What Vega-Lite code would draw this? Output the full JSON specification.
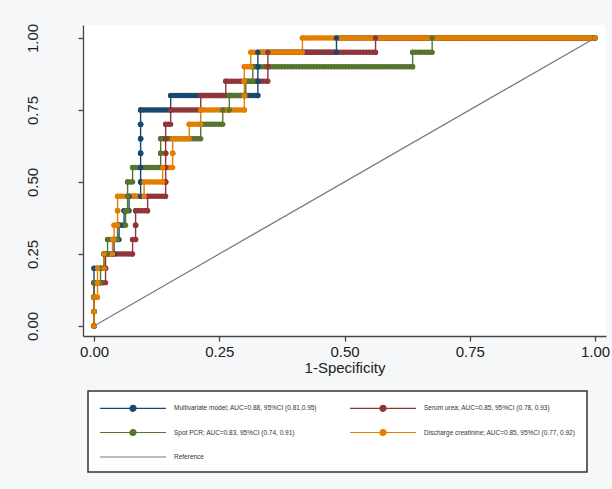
{
  "$schema": "https://vega.github.io/schema/vega-lite/v6.json",
  "width": 523,
  "height": 311,
  "autosize": {"type": "none"},
  "padding": {"left": 83, "top": 25, "right": 6, "bottom": 153},
  "background": "#f5f7f8",
  "config": {"view": {"fill": "white", "stroke": null}, "font": "Liberation Sans"},
  "datasets": {
    "roc": [
      {"m":"a","x":0,"x2":0,"y":0},{"m":"a","x":0,"x2":0,"y":0.05},{"m":"a","x":0,"x2":0,"y":0.1},{"m":"a","x":0,"x2":0,"y":0.15},{"m":"a","x":0,"x2":0.02,"y":0.2},{"m":"a","x":0.02,"x2":0.04,"y":0.25},{"m":"a","x":0.04,"x2":0.05,"y":0.3},{"m":"a","x":0.05,"x2":0.06,"y":0.35},{"m":"a","x":0.06,"x2":0.07,"y":0.4},{"m":"a","x":0.07,"x2":0.093,"y":0.45},{"m":"a","x":0.093,"x2":0.093,"y":0.5},{"m":"a","x":0.093,"x2":0.093,"y":0.55},{"m":"a","x":0.093,"x2":0.093,"y":0.6},{"m":"a","x":0.093,"x2":0.093,"y":0.65},{"m":"a","x":0.093,"x2":0.093,"y":0.7},{"m":"a","x":0.093,"x2":0.153,"y":0.75},{"m":"a","x":0.153,"x2":0.327,"y":0.8},{"m":"a","x":0.327,"x2":0.327,"y":0.85},{"m":"a","x":0.327,"x2":0.327,"y":0.9},{"m":"a","x":0.327,"x2":0.484,"y":0.95},{"m":"a","x":0.484,"x2":1,"y":1},
      {"m":"b","x":0,"x2":0,"y":0},{"m":"b","x":0,"x2":0,"y":0.05},{"m":"b","x":0,"x2":0,"y":0.1},{"m":"b","x":0,"x2":0.023,"y":0.15},{"m":"b","x":0.023,"x2":0.023,"y":0.2},{"m":"b","x":0.023,"x2":0.077,"y":0.25},{"m":"b","x":0.077,"x2":0.083,"y":0.3},{"m":"b","x":0.083,"x2":0.083,"y":0.35},{"m":"b","x":0.083,"x2":0.107,"y":0.4},{"m":"b","x":0.107,"x2":0.143,"y":0.45},{"m":"b","x":0.143,"x2":0.143,"y":0.5},{"m":"b","x":0.143,"x2":0.143,"y":0.55},{"m":"b","x":0.143,"x2":0.143,"y":0.6},{"m":"b","x":0.143,"x2":0.143,"y":0.65},{"m":"b","x":0.143,"x2":0.153,"y":0.7},{"m":"b","x":0.153,"x2":0.213,"y":0.75},{"m":"b","x":0.213,"x2":0.263,"y":0.8},{"m":"b","x":0.263,"x2":0.347,"y":0.85},{"m":"b","x":0.347,"x2":0.347,"y":0.9},{"m":"b","x":0.347,"x2":0.562,"y":0.95},{"m":"b","x":0.562,"x2":1,"y":1},
      {"m":"c","x":0,"x2":0,"y":0},{"m":"c","x":0,"x2":0,"y":0.05},{"m":"c","x":0,"x2":0,"y":0.1},{"m":"c","x":0,"x2":0.013,"y":0.15},{"m":"c","x":0.013,"x2":0.02,"y":0.2},{"m":"c","x":0.02,"x2":0.027,"y":0.25},{"m":"c","x":0.027,"x2":0.047,"y":0.3},{"m":"c","x":0.047,"x2":0.063,"y":0.35},{"m":"c","x":0.063,"x2":0.067,"y":0.4},{"m":"c","x":0.067,"x2":0.067,"y":0.45},{"m":"c","x":0.067,"x2":0.077,"y":0.5},{"m":"c","x":0.077,"x2":0.133,"y":0.55},{"m":"c","x":0.133,"x2":0.133,"y":0.6},{"m":"c","x":0.133,"x2":0.213,"y":0.65},{"m":"c","x":0.213,"x2":0.257,"y":0.7},{"m":"c","x":0.257,"x2":0.27,"y":0.75},{"m":"c","x":0.27,"x2":0.303,"y":0.8},{"m":"c","x":0.303,"x2":0.317,"y":0.85},{"m":"c","x":0.317,"x2":0.636,"y":0.9},{"m":"c","x":0.636,"x2":0.675,"y":0.95},{"m":"c","x":0.675,"x2":1,"y":1},
      {"m":"d","x":0,"x2":0,"y":0},{"m":"d","x":0,"x2":0,"y":0.05},{"m":"d","x":0,"x2":0.007,"y":0.1},{"m":"d","x":0.007,"x2":0.007,"y":0.15},{"m":"d","x":0.007,"x2":0.02,"y":0.2},{"m":"d","x":0.02,"x2":0.037,"y":0.25},{"m":"d","x":0.037,"x2":0.04,"y":0.3},{"m":"d","x":0.04,"x2":0.047,"y":0.35},{"m":"d","x":0.047,"x2":0.047,"y":0.4},{"m":"d","x":0.047,"x2":0.1,"y":0.45},{"m":"d","x":0.1,"x2":0.137,"y":0.5},{"m":"d","x":0.137,"x2":0.157,"y":0.55},{"m":"d","x":0.157,"x2":0.157,"y":0.6},{"m":"d","x":0.157,"x2":0.19,"y":0.65},{"m":"d","x":0.19,"x2":0.213,"y":0.7},{"m":"d","x":0.213,"x2":0.3,"y":0.75},{"m":"d","x":0.3,"x2":0.3,"y":0.8},{"m":"d","x":0.3,"x2":0.3,"y":0.85},{"m":"d","x":0.3,"x2":0.313,"y":0.9},{"m":"d","x":0.313,"x2":0.416,"y":0.95},{"m":"d","x":0.416,"x2":1,"y":1}
    ],
    "ref": [{"m":"e","x":0,"y":0},{"m":"e","x":1,"y":1}]
  },
  "layer": [
    {
      "data": {"name": "ref"},
      "mark": {"type": "line", "strokeWidth": 1.2},
      "encoding": {
        "x": {"field": "x", "type": "quantitative",
          "scale": {"domain": [-0.022, 1.022], "nice": false, "zero": false},
          "axis": {"values": [0, 0.25, 0.5, 0.75, 1], "format": ".2f", "title": "1-Specificity", "grid": false,
            "labelFontSize": 15, "titleFontSize": 15, "titleFontWeight": "normal", "labelFlush": false,
            "tickSize": 5, "labelPadding": 3, "titlePadding": 1, "domainColor": "#444", "tickColor": "#444",
            "domainWidth": 1.3, "tickWidth": 1.3, "labelColor": "#222", "titleColor": "#222"}},
        "y": {"field": "y", "type": "quantitative",
          "scale": {"domain": [-0.035, 1.045], "nice": false, "zero": false},
          "axis": {"values": [0, 0.25, 0.5, 0.75, 1], "format": ".2f", "title": null, "grid": false,
            "labelFontSize": 15, "labelAngle": 270, "labelPadding": 38, "labelFlush": false,
            "tickSize": 5, "domainColor": "#444", "tickColor": "#444",
            "domainWidth": 1.3, "tickWidth": 1.3, "labelColor": "#222"}},
        "color": {"field": "m", "type": "nominal",
          "scale": {"domain": ["a", "b", "c", "d", "e"], "range": ["#1a476f", "#90353b", "#55752f", "#e37e00", "#6f7a82"]},
          "legend": {
            "orient": "none", "legendX": 5, "legendY": 366, "columns": 2, "direction": "horizontal", "title": null,
            "padding": 11, "strokeColor": "#333", "fillColor": "white",
            "labelFontSize": 6.5, "labelColor": "#333", "labelLimit": 400, "labelOffset": 63,
            "symbolSize": 100, "symbolStrokeWidth": 1.2, "rowPadding": 12.5, "columnPadding": 30,
            "symbolType": "M-1,0L12.2,0M5,0A0.6,0.6,0,1,1,6.2,0A0.6,0.6,0,1,1,5,0Z",
            "labelExpr": "datum.value==='a'?'Multivariate model; AUC=0.88, 95%CI (0.81,0.95)':datum.value==='b'?'Serum urea; AUC=0.85, 95%CI (0.78, 0.93)':datum.value==='c'?'Spot PCR; AUC=0.83, 95%CI (0.74, 0.91)':datum.value==='d'?'Discharge creatinine; AUC=0.85, 95%CI (0.77, 0.92)':'Reference'",
            "encode": {
              "legend": {"update": {"strokeWidth": {"value": 1.5}}},
              "symbols": {"update": {
                "fill": [{"test": "datum.value==='e'", "value": "transparent"}, {"scale": "color", "field": "value"}],
                "shape": [{"test": "datum.value==='e'", "value": "M-1,0L12.2,0"}, {"value": "M-1,0L12.2,0M5,0A0.6,0.6,0,1,1,6.2,0A0.6,0.6,0,1,1,5,0Z"}],
                "opacity": {"value": 1}
              }}
            }
          }}
      }
    },
    {
      "data": {"name": "roc"},
      "transform": [{"fold": ["x", "x2"], "as": ["k", "xv"]}],
      "mark": {"type": "line", "strokeWidth": 1.4},
      "encoding": {
        "x": {"field": "xv", "type": "quantitative"},
        "y": {"field": "y", "type": "quantitative"},
        "color": {"field": "m", "type": "nominal"},
        "order": [{"field": "xv", "type": "quantitative"}, {"field": "y", "type": "quantitative"}]
      }
    },
    {
      "data": {"name": "roc"},
      "mark": {"type": "rule", "strokeWidth": 5.5, "strokeCap": "round", "strokeDash": [0.1, 2.8]},
      "encoding": {
        "x": {"field": "x", "type": "quantitative"},
        "x2": {"field": "x2"},
        "y": {"field": "y", "type": "quantitative"},
        "color": {"field": "m", "type": "nominal"}
      }
    },
    {
      "data": {"name": "roc"},
      "transform": [{"fold": ["x", "x2"], "as": ["k", "xv"]}],
      "mark": {"type": "point", "filled": true, "size": 28, "opacity": 1},
      "encoding": {
        "x": {"field": "xv", "type": "quantitative"},
        "y": {"field": "y", "type": "quantitative"},
        "color": {"field": "m", "type": "nominal"}
      }
    }
  ]
}
